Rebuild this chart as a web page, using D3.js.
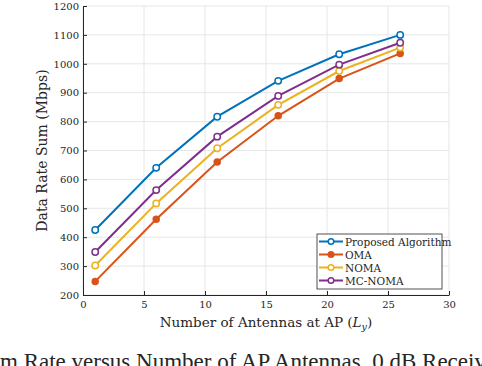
<!DOCTYPE html>
<html>
<head>
<meta charset="utf-8">
<script src="https://cdn.jsdelivr.net/npm/d3@7"></script>
<style>
  body { margin: 0; background: #fff; overflow: hidden; }
  svg { display: block; }
  text { font-family: "DejaVu Serif", "Liberation Serif", serif; fill: #262626; }
</style>
</head>
<body>
<svg id="chart" width="482" height="366"></svg>
<script>
// data
const antennas = [1, 6, 11, 16, 21, 26];
const proposed = [425, 640, 817, 941, 1033, 1100];
const oma = [247, 462, 660, 820, 949, 1036];
const noma = [302, 517, 708, 858, 975, 1056];
const mcNoma = [349, 563, 748, 889, 997, 1073];
const seriesNames = ['Proposed Algorithm', 'OMA', 'NOMA', 'MC-NOMA'];
const xTicks = [0, 5, 10, 15, 20, 25, 30];
const yTicks = [200, 300, 400, 500, 600, 700, 800, 900, 1000, 1100, 1200];

const colors = ['#0072BD', '#D95319', '#EDB120', '#7E2F8E'];
const allSeries = [proposed, oma, noma, mcNoma];

const svg = d3.select('#chart');
const margin = { top: 6, right: 33, bottom: 71, left: 83 };
const width = +svg.attr('width');
const height = +svg.attr('height');
const innerWidth = width - margin.left - margin.right;
const innerHeight = height - margin.top - margin.bottom;

const xScale = d3.scaleLinear().domain([0, 30]).range([0, innerWidth]);
const yScale = d3.scaleLinear().domain([200, 1200]).range([innerHeight, 0]);

const g = svg.append('g')
  .attr('transform', `translate(${margin.left},${margin.top})`);

// grid
g.append('g').selectAll('line').data(xTicks).enter().append('line')
  .attr('x1', d => xScale(d)).attr('x2', d => xScale(d))
  .attr('y1', 0).attr('y2', innerHeight)
  .attr('stroke', '#e6e6e6').attr('stroke-width', 1);
g.append('g').selectAll('line').data(yTicks).enter().append('line')
  .attr('y1', d => yScale(d)).attr('y2', d => yScale(d))
  .attr('x1', 0).attr('x2', innerWidth)
  .attr('stroke', '#e6e6e6').attr('stroke-width', 1);

// axes (ticks inward like matlab)
const xAxis = d3.axisBottom(xScale).tickValues(xTicks).tickFormat(d3.format('d'))
  .tickSizeInner(-4).tickSizeOuter(0).tickPadding(6);
const yAxis = d3.axisLeft(yScale).tickValues(yTicks).tickFormat(d3.format('d'))
  .tickSizeInner(-4).tickSizeOuter(0).tickPadding(4);

const xg = g.append('g').attr('transform', `translate(0,${innerHeight})`).call(xAxis);
const yg = g.append('g').call(yAxis);
[xg, yg].forEach(a => {
  a.selectAll('path').attr('stroke', '#262626').attr('stroke-width', 1);
  a.selectAll('line').attr('stroke', '#262626');
  a.selectAll('text')
    .style('font-family', '"DejaVu Serif", serif')
    .style('font-size', '10px').attr('fill', '#262626');
});

// axis labels
svg.append('text')
  .attr('x', margin.left + innerWidth / 2)
  .attr('y', 327)
  .attr('text-anchor', 'middle')
  .style('font-size', '13.5px')
  .html('Number of Antennas at AP (<tspan font-style="italic">L</tspan><tspan font-style="italic" font-size="9.5px" dy="3">y</tspan><tspan dy="-3">)</tspan>');

svg.append('text')
  .attr('transform', `translate(47,${margin.top + innerHeight / 2}) rotate(-90)`)
  .attr('text-anchor', 'middle')
  .style('font-size', '14px')
  .text('Data Rate Sum (Mbps)');

// caption line below the plot, cut by the window as in the figure
svg.append('text')
  .attr('x', -24.3)
  .attr('y', 368.5)
  .style('font-family', '"Liberation Serif", serif')
  .style('font-size', '23px')
  .text('Sum Rate versus Number of AP Antennas, 0 dB Receiver');

// lines and markers
const line = d3.line()
  .x((d, i) => xScale(antennas[i]))
  .y(d => yScale(d));

allSeries.forEach((values, k) => {
  g.append('path')
    .datum(values)
    .attr('d', line)
    .attr('fill', 'none')
    .attr('stroke', colors[k])
    .attr('stroke-width', 2);
  g.append('g').selectAll('circle').data(values).enter().append('circle')
    .attr('cx', (d, i) => xScale(antennas[i]))
    .attr('cy', d => yScale(d))
    .attr('r', k === 1 ? 3 : 3.2)
    .attr('fill', k === 1 ? colors[k] : '#fff')
    .attr('stroke', colors[k])
    .attr('stroke-width', 1.5);
});

// legend
const legend = svg.append('g').attr('transform', 'translate(317,234)');
legend.append('rect')
  .attr('width', 125).attr('height', 55)
  .attr('fill', '#fff').attr('stroke', '#262626').attr('stroke-width', 0.8);
seriesNames.forEach((name, k) => {
  const y = 7.5 + k * 13;
  legend.append('line')
    .attr('x1', 2).attr('x2', 26).attr('y1', y).attr('y2', y)
    .attr('stroke', colors[k]).attr('stroke-width', 2);
  legend.append('circle')
    .attr('cx', 14).attr('cy', y).attr('r', 2.8)
    .attr('fill', k === 1 ? colors[k] : '#fff')
    .attr('stroke', colors[k]).attr('stroke-width', 1.5);
  legend.append('text')
    .attr('x', 28).attr('y', y + 4)
    .style('font-size', '10.5px')
    .text(name);
});
</script>
</body>
</html>
